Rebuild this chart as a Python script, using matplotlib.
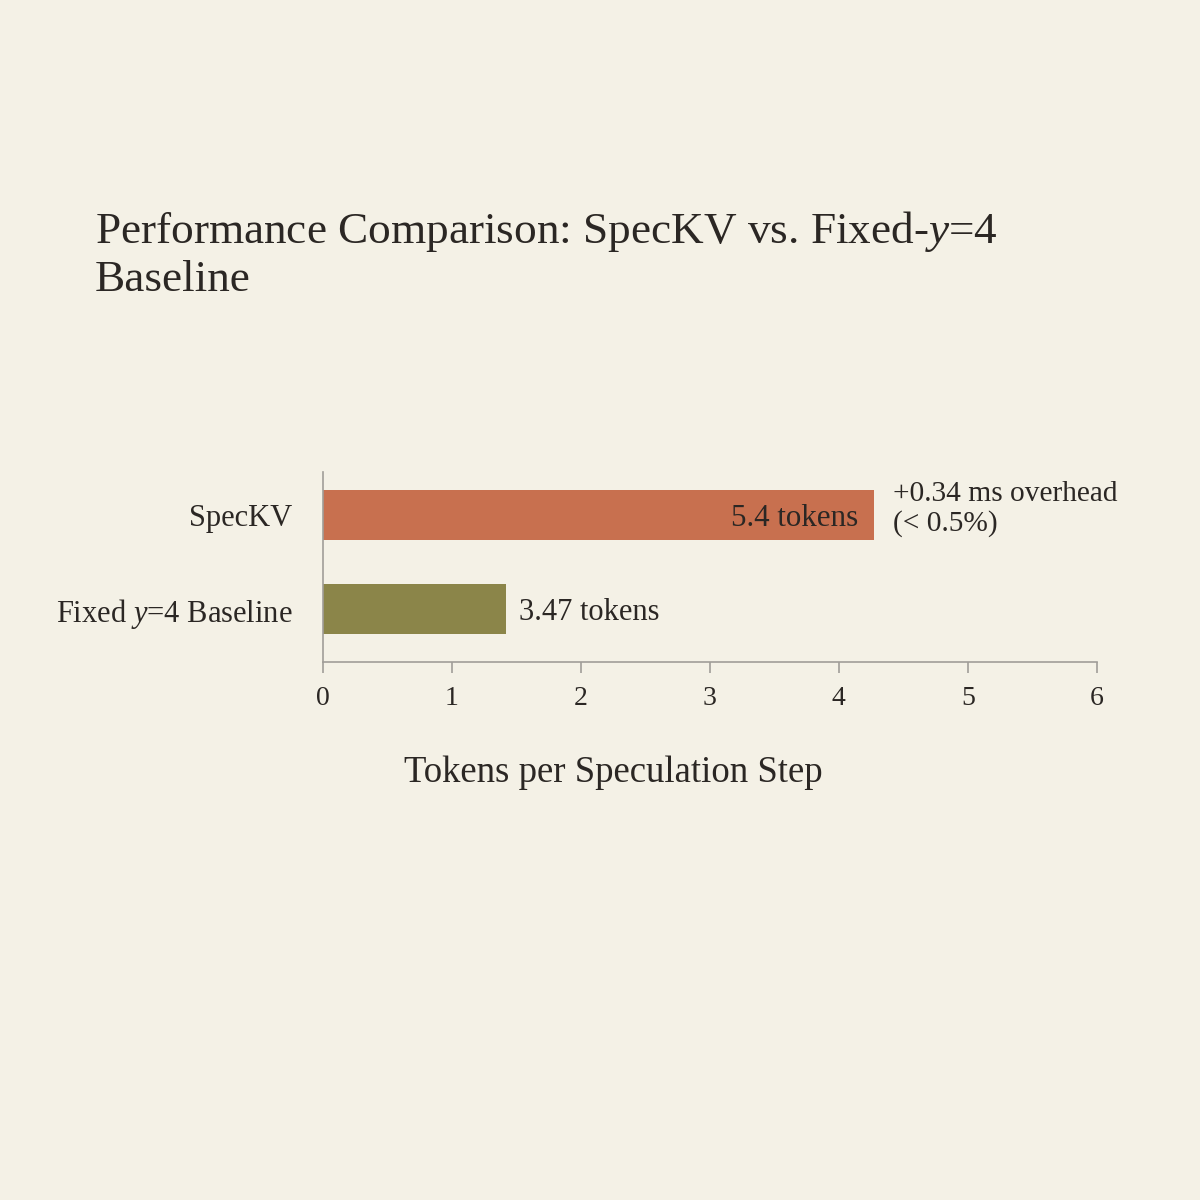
import matplotlib
matplotlib.use('Agg')
import matplotlib.pyplot as plt

# data
categories = ['Fixed $y$=4 Baseline', 'SpecKV']
bar_values = [1.42, 4.27]
bar_labels = ['3.47 tokens', '5.4 tokens']
bar_colors = ['#8b8549', '#c8704f']
overhead_note = '+0.34 ms overhead\n(< 0.5%)'
x_ticks = [0, 1, 2, 3, 4, 5, 6]

plt.rcParams['font.family'] = ['Liberation Serif', 'DejaVu Serif']
plt.rcParams['mathtext.fontset'] = 'custom'
plt.rcParams['mathtext.rm'] = 'Liberation Serif'
plt.rcParams['mathtext.it'] = 'Liberation Serif:italic'

bg = '#f4f1e6'
txt = '#2b2724'
spine = '#a09d98'

fig = plt.figure(figsize=(12, 12), dpi=100, facecolor=bg)
ax = fig.add_axes([0.269, 0.4483, 0.645, 0.1583], facecolor=bg)

ypos = list(range(len(categories)))
bars = ax.barh(ypos, bar_values, height=0.53, color=bar_colors)

ax.set_xlim(0, 6)
ax.set_ylim(-0.564, 1.457)
ax.set_xticks(x_ticks)
ax.set_yticks(ypos)
ax.set_yticklabels(categories, va='center_baseline')
ax.tick_params(axis='x', length=8, width=1.2, color=spine, labelsize=20, labelcolor=txt, pad=9)
ax.tick_params(axis='y', length=0, labelsize=22, labelcolor=txt, pad=22)
for s in ['top', 'right']:
    ax.spines[s].set_visible(False)
for s in ['left', 'bottom']:
    ax.spines[s].set_color(spine)
    ax.spines[s].set_linewidth(1.2)

ax.set_xlabel('Tokens per Speculation Step', fontsize=26.5, color=txt)
ax.xaxis.set_label_coords(0.375, -0.585)
ax.xaxis.label.set_va('center')

# value labels
ax.annotate(bar_labels[1], (bar_values[1], ypos[1]), xytext=(-15, 0), textcoords='offset pixels',
            ha='right', va='center_baseline', fontsize=22.3, color=txt)
ax.annotate(bar_labels[0], (bar_values[0], ypos[0]), xytext=(13, 0), textcoords='offset pixels',
            ha='left', va='center_baseline', fontsize=22, color=txt)
ax.annotate(overhead_note, (bar_values[1], ypos[1]), xytext=(19, 6), textcoords='offset pixels',
            ha='left', va='center', fontsize=21.2, color=txt, linespacing=1.15)

fig.text(0.079, 0.788, 'Performance Comparison: SpecKV vs. Fixed-$y$=4\nBaseline',
         ha='left', va='center', fontsize=32.6, color=txt, linespacing=1.2)

fig.savefig('out.png', dpi=100, facecolor=bg)
